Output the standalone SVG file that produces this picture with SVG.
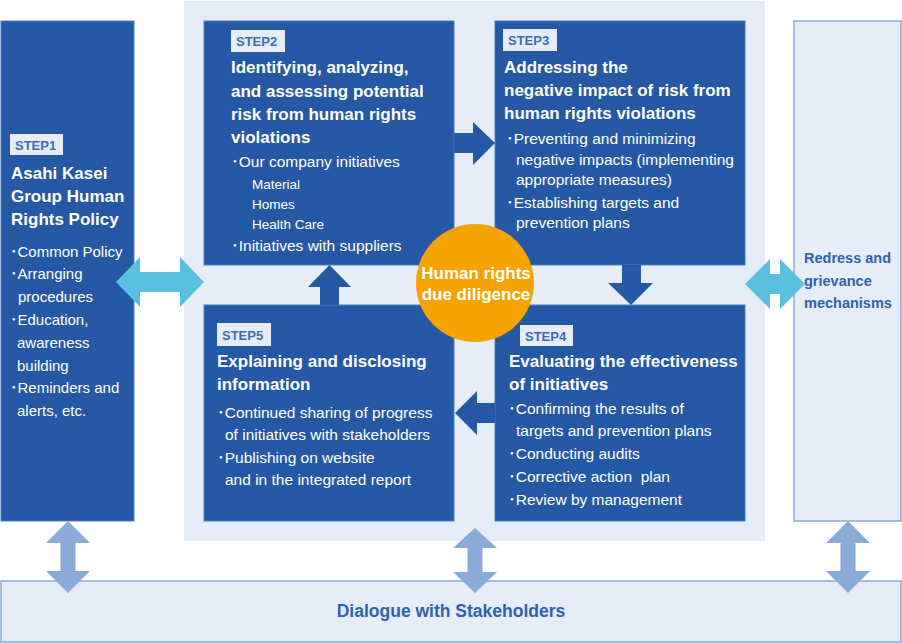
<svg xmlns="http://www.w3.org/2000/svg" width="902" height="643" viewBox="0 0 902 643">
<style>
.dark{fill:#2559a5;stroke:#4d7cc0;stroke-width:1}
.light{fill:#e6edf7;stroke:#8aa9d6;stroke-width:1.5}
.panel{fill:#e6edf7}
.lbl{fill:#e6edf7}
.step{font-family:"Liberation Sans","Noto Sans CJK JP",sans-serif;font-weight:bold;font-size:13px;fill:#3a6db5}
.title{font-family:"Liberation Sans","Noto Sans CJK JP",sans-serif;font-weight:bold;font-size:17px;fill:#ffffff}
.body{font-family:"Liberation Sans","Noto Sans CJK JP",sans-serif;font-size:15.5px;fill:#ffffff}
.b1{font-family:"Liberation Sans","Noto Sans CJK JP",sans-serif;font-size:15px;fill:#ffffff}
.sub{font-family:"Liberation Sans","Noto Sans CJK JP",sans-serif;font-size:13.5px;fill:#ffffff}
.blue{font-family:"Liberation Sans","Noto Sans CJK JP",sans-serif;font-weight:bold;font-size:14.5px;fill:#2f62ad}
.dlg{font-family:"Liberation Sans","Noto Sans CJK JP",sans-serif;font-weight:bold;font-size:17.5px;fill:#2f62ad}
.flow{fill:#2559a5}
.cyan{fill:#5bbfe0}
.vert{fill:#8aaad8}
</style>
<rect x="0" y="0" width="902" height="643" fill="#ffffff"/>
<rect class="panel" x="184" y="1" width="581" height="540"/>

<g id="step1">
<rect class="dark" x="1" y="21" width="133" height="500"/>
<rect class="lbl" x="10" y="134" width="53" height="21"/>
<text class="step" x="15" y="150">STEP1</text>
<text class="title" x="11" y="179">Asahi Kasei</text>
<text class="title" x="11" y="202">Group Human</text>
<text class="title" x="11" y="225">Rights Policy</text>
<text class="b1" x="10" y="257">･Common Policy</text>
<text class="b1" x="10" y="279">･Arranging</text>
<text class="b1" x="18" y="302">procedures</text>
<text class="b1" x="10" y="325">･Education,</text>
<text class="b1" x="17" y="348">awareness</text>
<text class="b1" x="17" y="371">building</text>
<text class="b1" x="10" y="393">･Reminders and</text>
<text class="b1" x="17" y="416">alerts, etc.</text>
</g>

<g id="step2">
<rect class="dark" x="204" y="21" width="250" height="244"/>
<rect class="lbl" x="231" y="30" width="54" height="22"/>
<text class="step" x="236" y="46">STEP2</text>
<text class="title" x="231" y="73">Identifying, analyzing,</text>
<text class="title" x="231" y="97">and assessing potential</text>
<text class="title" x="231" y="120">risk from human rights</text>
<text class="title" x="231" y="143">violations</text>
<text class="body" x="231" y="167">･Our company initiatives</text>
<text class="sub" x="252" y="189">Material</text>
<text class="sub" x="252" y="209">Homes</text>
<text class="sub" x="252" y="229">Health Care</text>
<text class="body" x="231" y="251">･Initiatives with suppliers</text>
</g>

<g id="step3">
<rect class="dark" x="495" y="21" width="250" height="244"/>
<rect class="lbl" x="503" y="29" width="54" height="22"/>
<text class="step" x="508" y="45">STEP3</text>
<text class="title" x="504" y="73">Addressing the</text>
<text class="title" x="504" y="96">negative impact of risk from</text>
<text class="title" x="504" y="119">human rights violations</text>
<text class="body" x="506" y="144">･Preventing and minimizing</text>
<text class="body" x="516" y="165">negative impacts (implementing</text>
<text class="body" x="516" y="185">appropriate measures)</text>
<text class="body" x="506" y="208">･Establishing targets and</text>
<text class="body" x="516" y="228">prevention plans</text>
</g>

<g id="step5">
<rect class="dark" x="204" y="305" width="250" height="216"/>
<rect class="lbl" x="217" y="323" width="54" height="23"/>
<text class="step" x="222" y="340">STEP5</text>
<text class="title" x="217" y="367">Explaining and disclosing</text>
<text class="title" x="217" y="390">information</text>
<text class="body" x="217" y="418">･Continued sharing of progress</text>
<text class="body" x="225" y="440">of initiatives with stakeholders</text>
<text class="body" x="217" y="463">･Publishing on website</text>
<text class="body" x="225" y="485">and in the integrated report</text>
</g>

<g id="step4">
<rect class="dark" x="495" y="305" width="250" height="216"/>
<rect class="lbl" x="520" y="325" width="53" height="21"/>
<text class="step" x="525" y="341">STEP4</text>
<text class="title" x="509" y="367">Evaluating the effectiveness</text>
<text class="title" x="509" y="390">of initiatives</text>
<text class="body" x="508" y="414">･Confirming the results of</text>
<text class="body" x="516" y="436">targets and prevention plans</text>
<text class="body" x="508" y="459">･Conducting audits</text>
<text class="body" x="508" y="482">･Corrective action&#160; plan</text>
<text class="body" x="508" y="505">･Review by management</text>
</g>

<g id="hrdd">
<circle cx="475" cy="283" r="59" fill="#f5a300"/>
<text class="title" x="476" y="279" text-anchor="middle">Human rights</text>
<text class="title" x="476" y="300" text-anchor="middle">due diligence</text>
</g>

<g id="redress">
<rect class="light" x="794" y="21" width="107" height="500"/>
<text class="blue" x="804" y="263">Redress and</text>
<text class="blue" x="804" y="286">grievance</text>
<text class="blue" x="804" y="308">mechanisms</text>
</g>

<g id="dialogue">
<rect class="light" x="1" y="581" width="900" height="61"/>
<text class="dlg" x="451" y="617" text-anchor="middle">Dialogue with Stakeholders</text>
</g>

<g id="connectors">
<polygon class="flow" points="454,133 473,133 473,122 495,143 473,165 473,153 454,153"/>
<polygon class="flow" points="622,265 641,265 641,283 653,283 631,305 608,283 622,283"/>
<polygon class="flow" points="495,403 477,403 477,391 455,413 477,435 477,423 495,423"/>
<polygon class="flow" points="320,305 320,287 308,287 329.5,265 351,287 339,287 339,305"/>
<polygon class="cyan" points="116,282 140,257 140,272 180,272 180,257 204,282 180,307 180,292 140,292 140,307"/>
<polygon class="cyan" points="745,284 770,259 770,274 780,274 780,259 805,284 780,309 780,294 770,294 770,309"/>
<polygon class="vert" points="68,521 90,543 75.5,543 75.5,571 90,571 68,593 46,571 60.5,571 60.5,543 46,543"/>
<polygon class="vert" points="475,528 497,548 482.5,548 482.5,572 497,572 475,593 453,572 467.5,572 467.5,548 453,548"/>
<polygon class="vert" points="848,521 870,543 855.5,543 855.5,571 870,571 848,593 826,571 840.5,571 840.5,543 826,543"/>
</g>
</svg>
